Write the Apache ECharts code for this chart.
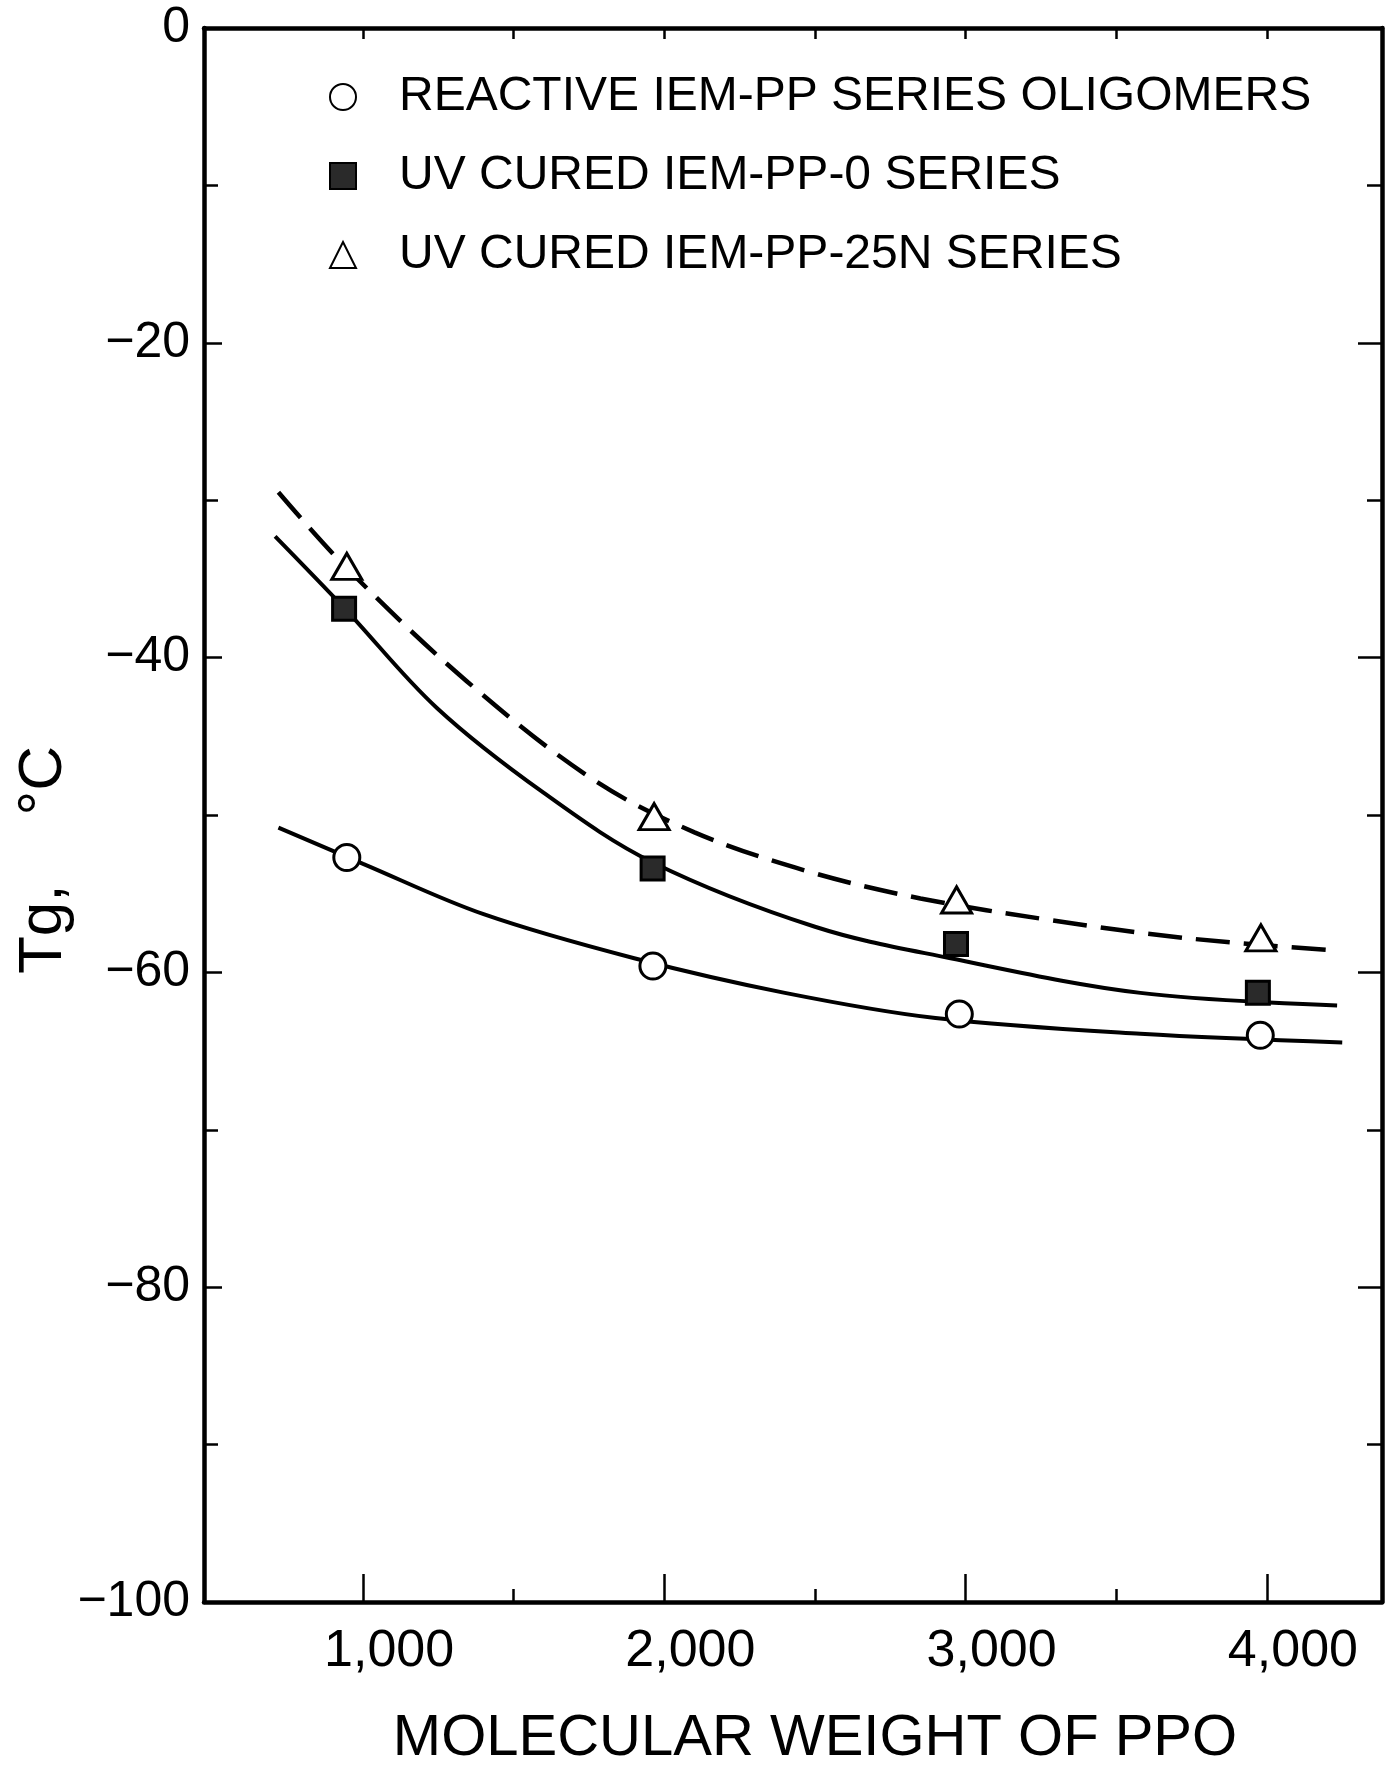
<!DOCTYPE html>
<html>
<head>
<meta charset="utf-8">
<script src="https://cdn.jsdelivr.net/npm/echarts@6/dist/echarts.min.js"></script>
<style>
html,body{margin:0;padding:0;background:#fff;}
#chart{width:1389px;height:1773px;}
</style>
</head>
<body>
<div id="chart"></div>
<script>
// ---- data ----
const seriesNames = ['REACTIVE IEM-PP SERIES OLIGOMERS', 'UV CURED IEM-PP-0 SERIES', 'UV CURED IEM-PP-25N SERIES'];
// measured points [molecular weight, Tg]
const reactivePoints = [[946, -52.7], [1962, -59.6], [2979, -62.65], [3978, -64.0]];
const cured0Points = [[937, -36.9], [1961, -53.4], [2968, -58.2], [3970, -61.3]];
const cured25NPoints = [[946, -34.2], [1966, -50.1], [2970, -55.4], [3980, -57.8]];
// hand-drawn fit curves
const reactiveCurve = [[719, -50.8], [1000, -53.1], [1400, -56.3], [1900, -59.1], [2400, -61.3], [2900, -62.9], [3580, -63.9], [4250, -64.45]];
const cured0Curve = [[708, -32.3], [940, -36.9], [1245, -43.2], [1600, -48.6], [1960, -53.0], [2500, -57.1], [2950, -59.1], [3580, -61.3], [4233, -62.1]];
const cured25NCurve = [[719, -29.5], [945, -34.3], [1344, -41.5], [1760, -47.7], [2100, -51.1], [2480, -53.6], [2850, -55.3], [3290, -56.7], [3720, -57.8], [4218, -58.6]];
// axis ticks / labels
const xLabelValues = [1000, 2000, 3000, 4000];
const xMinorTickValues = [1500, 2500, 3500];
const xTopTickValues = [1000, 1500, 2000, 2500, 3000, 3500, 4000];
const xRange = [472, 4382];
const yRange = [-100, 0];
const xTitle = 'MOLECULAR WEIGHT OF PPO';
const yTitle = 'Tg,    °C';

const FONT = 'Liberation Sans';
const GRID = {left: 204, right: 7, top: 28, bottom: 167};
const chart = echarts.init(document.getElementById('chart'), null, {renderer: 'canvas'});

const axisLineStyle = {color: '#000', width: 4.5};
const option = {
  backgroundColor: '#fff',
  animation: false,
  grid: Object.assign({containLabel: false}, GRID),
  legend: {
    orient: 'vertical',
    left: 324,
    top: 66,
    itemWidth: 26,
    itemHeight: 26,
    itemGap: 27,
    data: seriesNames,
    textStyle: {fontFamily: FONT, fontSize: 48, color: '#000', lineHeight: 52, padding: [0, 0, 0, 38]}
  },
  graphic: [{
    type: 'text',
    x: 44, y: 860,
    rotation: Math.PI / 2,
    style: {text: yTitle, fontFamily: FONT, fontSize: 62, fill: '#000', align: 'center', verticalAlign: 'middle'}
  }],
  xAxis: [
    {
      type: 'value', position: 'bottom', min: xRange[0], max: xRange[1],
      name: xTitle, nameLocation: 'middle', nameGap: 108,
      nameTextStyle: {fontFamily: FONT, fontSize: 58, color: '#000', padding: [0, 0, 0, 44]},
      axisLine: {show: true, onZero: false, lineStyle: axisLineStyle},
      axisTick: {show: true, inside: true, length: 28, customValues: xLabelValues, lineStyle: {color: '#000', width: 2.5}},
      axisLabel: {show: true, customValues: xLabelValues, margin: 24, fontFamily: FONT, fontSize: 52, color: '#000', padding: [0, 0, 0, 52],
        formatter: v => v.toLocaleString('en-US')},
      splitLine: {show: false}
    },
    {
      type: 'value', position: 'bottom', min: xRange[0], max: xRange[1],
      axisLine: {show: false, onZero: false},
      axisTick: {show: true, inside: true, length: 13, customValues: xMinorTickValues, lineStyle: {color: '#000', width: 2.5}},
      axisLabel: {show: false},
      splitLine: {show: false}
    },
    {
      type: 'value', position: 'top', min: xRange[0], max: xRange[1],
      axisLine: {show: true, onZero: false, lineStyle: axisLineStyle},
      axisTick: {show: true, inside: true, length: 11, customValues: xTopTickValues, lineStyle: {color: '#000', width: 2.5}},
      axisLabel: {show: false},
      splitLine: {show: false}
    }
  ],
  yAxis: [
    {
      type: 'value', position: 'left', min: yRange[0], max: yRange[1], interval: 20,
      axisLine: {show: true, onZero: false, lineStyle: axisLineStyle},
      axisTick: {show: true, inside: true, length: 18, lineStyle: {color: '#000', width: 2.5}},
      minorTick: {show: true, splitNumber: 2, length: 14, lineStyle: {color: '#000', width: 2.5}},
      axisLabel: {show: true, margin: 14, fontFamily: FONT, fontSize: 50, color: '#000',
        formatter: v => v === 0 ? '0' : '\u2212' + Math.abs(v)},
      splitLine: {show: false}
    },
    {
      type: 'value', position: 'right', min: yRange[0], max: yRange[1], interval: 20,
      axisLine: {show: true, onZero: false, lineStyle: axisLineStyle},
      axisTick: {show: true, inside: true, length: 24, lineStyle: {color: '#000', width: 2.5}},
      minorTick: {show: true, splitNumber: 2, length: 15, lineStyle: {color: '#000', width: 2.5}},
      axisLabel: {show: false},
      splitLine: {show: false}
    }
  ],
  series: [
    {name: 'reactive fit', type: 'line', data: reactiveCurve, smooth: 0.35, showSymbol: false, silent: true,
      lineStyle: {color: '#000', width: 4}, z: 2},
    {name: 'cured0 fit', type: 'line', data: cured0Curve, smooth: 0.35, showSymbol: false, silent: true,
      lineStyle: {color: '#000', width: 4}, z: 2},
    {name: 'cured25N fit', type: 'line', data: cured25NCurve, smooth: 0.35, showSymbol: false, silent: true,
      lineStyle: {color: '#000', width: 4.5, type: [34, 14]}, z: 2},
    {name: seriesNames[0], type: 'scatter', data: reactivePoints, symbol: 'circle', symbolSize: 26,
      itemStyle: {color: '#fff', borderColor: '#000', borderWidth: 3, opacity: 1}, z: 5},
    {name: seriesNames[1], type: 'scatter', data: cured0Points, symbol: 'rect', symbolSize: 23,
      itemStyle: {color: '#2a2a2a', borderColor: '#000', borderWidth: 3, opacity: 1}, z: 5},
    {name: seriesNames[2], type: 'scatter', data: cured25NPoints, symbol: 'triangle', symbolSize: [30, 26],
      itemStyle: {color: '#fff', borderColor: '#000', borderWidth: 3, opacity: 1}, z: 5}
  ]
};
chart.setOption(option);
</script>
</body>
</html>
